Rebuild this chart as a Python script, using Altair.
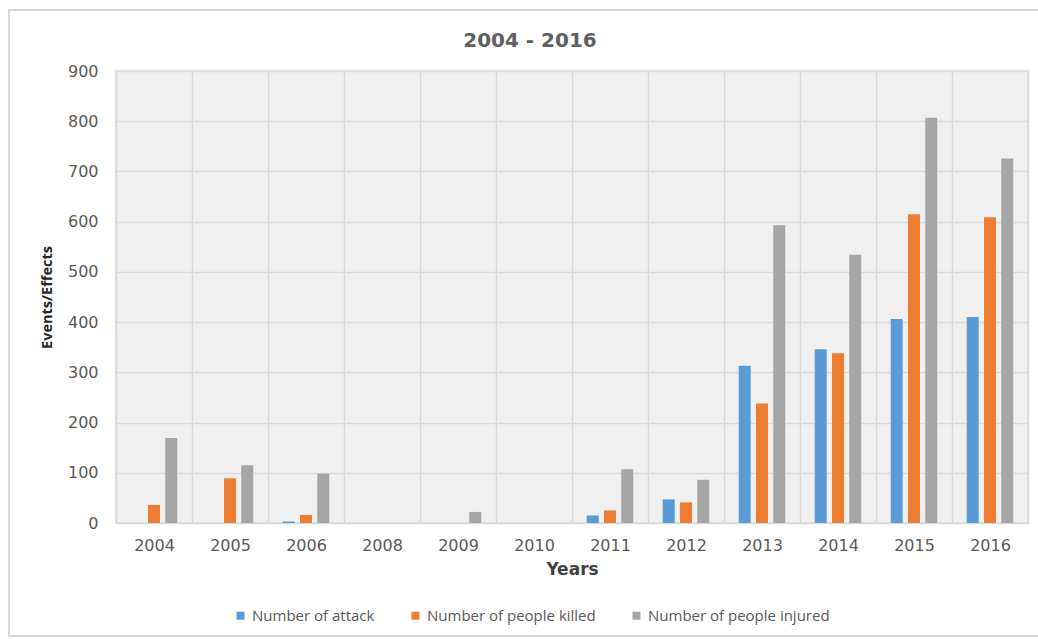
import altair as alt
import pandas as pd

years = ["2004", "2005", "2006", "2008", "2009", "2010", "2011", "2012", "2013", "2014", "2015", "2016"]
attacks = [0, 0, 3, 0, 0, 0, 15, 47, 313, 346, 406, 410]
killed = [36, 89, 16, 0, 0, 0, 25, 41, 238, 338, 615, 609]
injured = [169, 115, 98, 0, 22, 0, 107, 86, 593, 534, 807, 726]
series = ["Number of attack", "Number of people killed", "Number of people injured"]
colors = ["#5B9BD5", "#ED7D31", "#A5A5A5"]
title_text = "2004 - 2016"

rows = []
for name, vals in zip(series, [attacks, killed, injured]):
    for y, v in zip(years, vals):
        rows.append({"Year": y, "Series": name, "Value": v})
df = pd.DataFrame(rows)

TXT = "#595959"

bars = alt.Chart(df).mark_bar(size=12).encode(
    x=alt.X(
        "Year:N", sort=years,
        scale=alt.Scale(paddingInner=0, paddingOuter=0),
        axis=alt.Axis(
            title="Years", tickBand="extent", grid=True, ticks=False, domain=False,
            labelAngle=0, labelPadding=14, labelFont="DejaVu Sans", labelFontSize=16,
            labelColor=TXT, titleFont="DejaVu Sans", titleFontSize=17, titleFontWeight="bold",
            titleColor="#404040", titlePadding=8, gridColor="#D9D9D9", gridWidth=1.5,
        ),
    ),
    xOffset=alt.XOffset("Series:N", sort=series,
                        scale=alt.Scale(paddingInner=0.3, paddingOuter=0.85)),
    y=alt.Y(
        "Value:Q",
        scale=alt.Scale(domain=[0, 900], nice=False),
        axis=alt.Axis(
            title="Events/Effects", values=list(range(0, 1000, 100)), ticks=False, domain=False,
            labelPadding=18, labelFont="DejaVu Sans", labelFontSize=16, labelColor=TXT,
            titleFont="Open Sans", titleFontSize=14.5, titleFontWeight="bold", titleColor="#262626",
            titlePadding=13, gridColor="#D9D9D9", gridWidth=1.5,
        ),
    ),
    color=alt.Color(
        "Series:N", sort=series,
        scale=alt.Scale(domain=series, range=colors),
        legend=alt.Legend(
            title=None, orient="none", legendX=117, legendY=537, direction="horizontal",
            symbolType="square", symbolSize=64, symbolStrokeWidth=0, labelFont="Open Sans",
            labelFontSize=15, labelColor=TXT, columnPadding=33, labelOffset=4, labelLimit=400,
        ),
    ),
)

frame = alt.Chart(pd.DataFrame({"a": [0]})).mark_rect(
    fill=None, stroke="#D9D9D9", strokeWidth=2
).encode(
    x=alt.value(9 - 116), x2=alt.value(1060 - 116),
    y=alt.value(10 - 71), y2=alt.value(636 - 71),
)

title = alt.Chart(pd.DataFrame({"t": [title_text]})).mark_text(
    font="DejaVu Sans", fontSize=20, fontWeight="bold", color="#606060",
    align="center", baseline="alphabetic",
).encode(
    text="t:N", x=alt.value(530 - 116), y=alt.value(47 - 71),
)

chart = alt.layer(frame, bars, title).properties(
    width=912, height=452,
    view=alt.ViewBackground(fill="#F0F0F0", stroke="#D9D9D9", strokeWidth=1.5),
    autosize=alt.AutoSizeParams(type="none"),
    padding={"left": 116, "top": 71, "right": 10, "bottom": 116},
).configure(background="white")

chart.save("out.html", embed_options={"renderer": "svg", "actions": False})
